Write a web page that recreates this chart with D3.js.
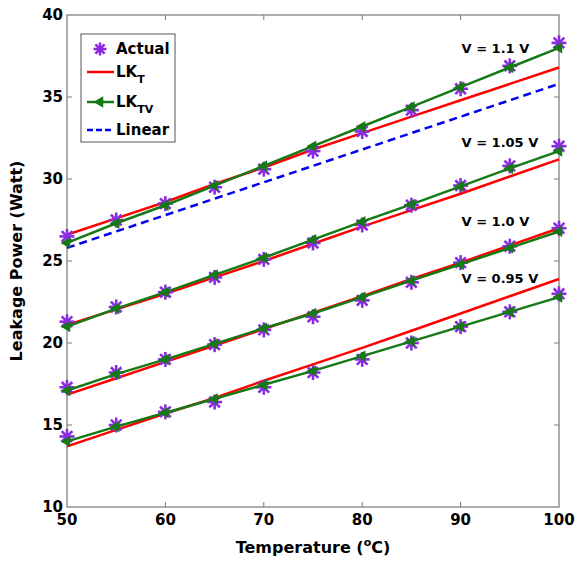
<!DOCTYPE html>
<html>
<head>
<meta charset="utf-8">
<script src="https://cdn.jsdelivr.net/npm/d3@7"></script>
<style>
  body { margin: 0; background: #fff; }
  text { font-family: "DejaVu Sans", Verdana, sans-serif; font-weight: bold; }
</style>
</head>
<body>
<div id="chart"></div>
<script>
const temps = [50, 55, 60, 65, 70, 75, 80, 85, 90, 95, 100]
const xTicks = [50, 60, 70, 80, 90, 100]
const yTicks = [10, 15, 20, 25, 30, 35, 40]

// measured leakage per supply voltage
const actual110 = [26.5, 27.5, 28.5, 29.5, 30.6, 31.7, 32.9, 34.2, 35.5, 36.9, 38.3]
const actual105 = [21.3, 22.2, 23.1, 24.0, 25.1, 26.1, 27.2, 28.4, 29.6, 30.8, 32.0]
const actual100 = [17.3, 18.2, 19.0, 19.9, 20.8, 21.6, 22.6, 23.7, 24.9, 25.9, 27.0]
const actual095 = [14.3, 15.0, 15.8, 16.4, 17.3, 18.2, 19.0, 20.0, 21.0, 21.9, 23.0]

// LK_T model
const lkT110 = [26.6, 27.6, 28.6, 29.7, 30.7, 31.8, 32.8, 33.8, 34.8, 35.8, 36.8]
const lkT105 = [21.1, 22.05, 23.0, 24.0, 25.0, 26.05, 27.1, 28.1, 29.1, 30.15, 31.2]
const lkT100 = [16.85, 17.85, 18.85, 19.85, 20.85, 21.85, 22.85, 23.9, 24.9, 25.95, 27.0]
const lkT095 = [13.7, 14.7, 15.7, 16.65, 17.7, 18.7, 19.7, 20.75, 21.8, 22.85, 23.9]

// LK_TV model
const lkTV110 = [26.1, 27.3, 28.4, 29.6, 30.8, 32.0, 33.2, 34.4, 35.6, 36.8, 38.0]
const lkTV105 = [21.0, 22.1, 23.1, 24.15, 25.2, 26.3, 27.4, 28.45, 29.55, 30.65, 31.7]
const lkTV100 = [17.1, 18.1, 19.0, 19.95, 20.9, 21.8, 22.8, 23.8, 24.8, 25.8, 26.8]
const lkTV095 = [14.0, 14.9, 15.75, 16.6, 17.45, 18.3, 19.2, 20.1, 21.0, 21.9, 22.8]

// linear model (only at 1.1 V)
const linear110 = [25.8, 26.8, 27.8, 28.8, 29.8, 30.8, 31.8, 32.8, 33.8, 34.8, 35.8]

const voltLabels = [
  {text: 'V = 1.1 V', t: 90.1, v: 37.7},
  {text: 'V = 1.05 V', t: 90.1, v: 31.95},
  {text: 'V = 1.0 V', t: 90.1, v: 27.15},
  {text: 'V = 0.95 V', t: 90.1, v: 23.65}
]

const W = 576, H = 562
const margin = {top: 15, right: 17, bottom: 55, left: 67}

const svg = d3.select('#chart').append('svg')
  .attr('width', W).attr('height', H)

const x = d3.scaleLinear().domain([50, 100]).range([margin.left, W - margin.right])
const y = d3.scaleLinear().domain([10, 40]).range([H - margin.bottom, margin.top])

const line = d3.line().x((d, i) => x(temps[i])).y(d => y(d))

// frame + ticks
const axisColor = '#777'
const ax = svg.append('g')
ax.append('rect')
  .attr('x', x(50)).attr('y', y(40))
  .attr('width', x(100) - x(50)).attr('height', y(10) - y(40))
  .attr('fill', 'none').attr('stroke', axisColor).attr('stroke-width', 1.2)

xTicks.slice(1, -1).forEach(t => {
  ax.append('line').attr('x1', x(t)).attr('x2', x(t)).attr('y1', y(10)).attr('y2', y(10) - 5).attr('stroke', axisColor)
  ax.append('line').attr('x1', x(t)).attr('x2', x(t)).attr('y1', y(40)).attr('y2', y(40) + 5).attr('stroke', axisColor)
})
yTicks.slice(1, -1).forEach(t => {
  ax.append('line').attr('x1', x(50)).attr('x2', x(50) + 5).attr('y1', y(t)).attr('y2', y(t)).attr('stroke', axisColor)
  ax.append('line').attr('x1', x(100)).attr('x2', x(100) - 5).attr('y1', y(t)).attr('y2', y(t)).attr('stroke', axisColor)
})

ax.selectAll('.xt').data(xTicks).enter().append('text')
  .attr('x', d => x(d)).attr('y', y(10) + 18)
  .attr('text-anchor', 'middle').attr('font-size', 15)
  .text(d => d)

ax.selectAll('.yt').data(yTicks).enter().append('text')
  .attr('x', x(50) - 4).attr('y', d => y(d) + 5)
  .attr('text-anchor', 'end').attr('font-size', 15)
  .text(d => d)

const xl = svg.append('text')
  .attr('x', 313).attr('y', 553)
  .attr('text-anchor', 'middle').attr('font-size', 16)
xl.append('tspan').text('Temperature (')
xl.append('tspan').attr('font-size', 11).attr('dy', -7).text('o')
xl.append('tspan').attr('dy', 7).text('C)')

svg.append('text')
  .attr('transform', `translate(22, ${(y(10) + y(40)) / 2}) rotate(-90)`)
  .attr('text-anchor', 'middle').attr('font-size', 16)
  .text('Leakage Power (Watt)')

const plot = svg.append('g')

const red = '#ff0000', green = '#157a15', blue = '#0000ee', purple = '#8a2be2'

;[lkT110, lkT105, lkT100, lkT095].forEach(s => {
  plot.append('path').attr('d', line(s))
    .attr('fill', 'none').attr('stroke', red).attr('stroke-width', 2.5)
})

plot.append('path').attr('d', line(linear110))
  .attr('fill', 'none').attr('stroke', blue).attr('stroke-width', 2.5)
  .attr('stroke-dasharray', '8,5')

function star(g, cx, cy, r) {
  const s = g.append('g').attr('transform', `translate(${cx},${cy})`)
  const k = r * Math.SQRT1_2
  ;[[-r, 0, r, 0], [0, -r, 0, r], [-k, -k, k, k], [-k, k, k, -k]].forEach(l => {
    s.append('line').attr('x1', l[0]).attr('y1', l[1]).attr('x2', l[2]).attr('y2', l[3])
      .attr('stroke', purple).attr('stroke-width', 2.6)
  })
}

;[actual110, actual105, actual100, actual095].forEach(s => {
  s.forEach((v, i) => star(plot, x(temps[i]), y(v), 7.5))
})

const tri = d3.symbol().type(d3.symbolTriangle).size(55)
;[lkTV110, lkTV105, lkTV100, lkTV095].forEach(s => {
  plot.append('path').attr('d', line(s))
    .attr('fill', 'none').attr('stroke', green).attr('stroke-width', 2.5)
  s.forEach((v, i) => {
    plot.append('path').attr('d', tri)
      .attr('transform', `translate(${x(temps[i])},${y(v)}) rotate(-90)`)
      .attr('fill', green)
  })
})

svg.selectAll('.vl').data(voltLabels).enter().append('text')
  .attr('x', d => x(d.t)).attr('y', d => y(d.v))
  .attr('font-size', 13)
  .text(d => d.text)

// legend
const lg = svg.append('g').attr('transform', 'translate(81,34)')
lg.append('rect').attr('width', 94).attr('height', 108)
  .attr('fill', '#fff').attr('stroke', '#555').attr('stroke-width', 1)

const rows = [15, 38, 68, 96]
star(lg, 19, rows[0], 6.5)
lg.append('line').attr('x1', 6).attr('x2', 33).attr('y1', rows[1]).attr('y2', rows[1]).attr('stroke', red).attr('stroke-width', 2.5)
lg.append('line').attr('x1', 6).attr('x2', 33).attr('y1', rows[2]).attr('y2', rows[2]).attr('stroke', green).attr('stroke-width', 2.5)
lg.append('path').attr('d', tri).attr('transform', `translate(19,${rows[2]}) rotate(-90)`).attr('fill', green)
lg.append('line').attr('x1', 6).attr('x2', 33).attr('y1', rows[3]).attr('y2', rows[3]).attr('stroke', blue).attr('stroke-width', 2.5).attr('stroke-dasharray', '6,3')

lg.append('text').attr('x', 35).attr('y', rows[0] + 5).attr('font-size', 15).text('Actual')
const t1 = lg.append('text').attr('x', 35).attr('y', rows[1] + 5).attr('font-size', 15)
t1.append('tspan').text('LK')
t1.append('tspan').attr('font-size', 11).attr('dy', 6).text('T')
const t2 = lg.append('text').attr('x', 35).attr('y', rows[2] + 5).attr('font-size', 15)
t2.append('tspan').text('LK')
t2.append('tspan').attr('font-size', 11).attr('dy', 6).text('TV')
lg.append('text').attr('x', 35).attr('y', rows[3] + 5).attr('font-size', 15).text('Linear')
</script>
</body>
</html>
